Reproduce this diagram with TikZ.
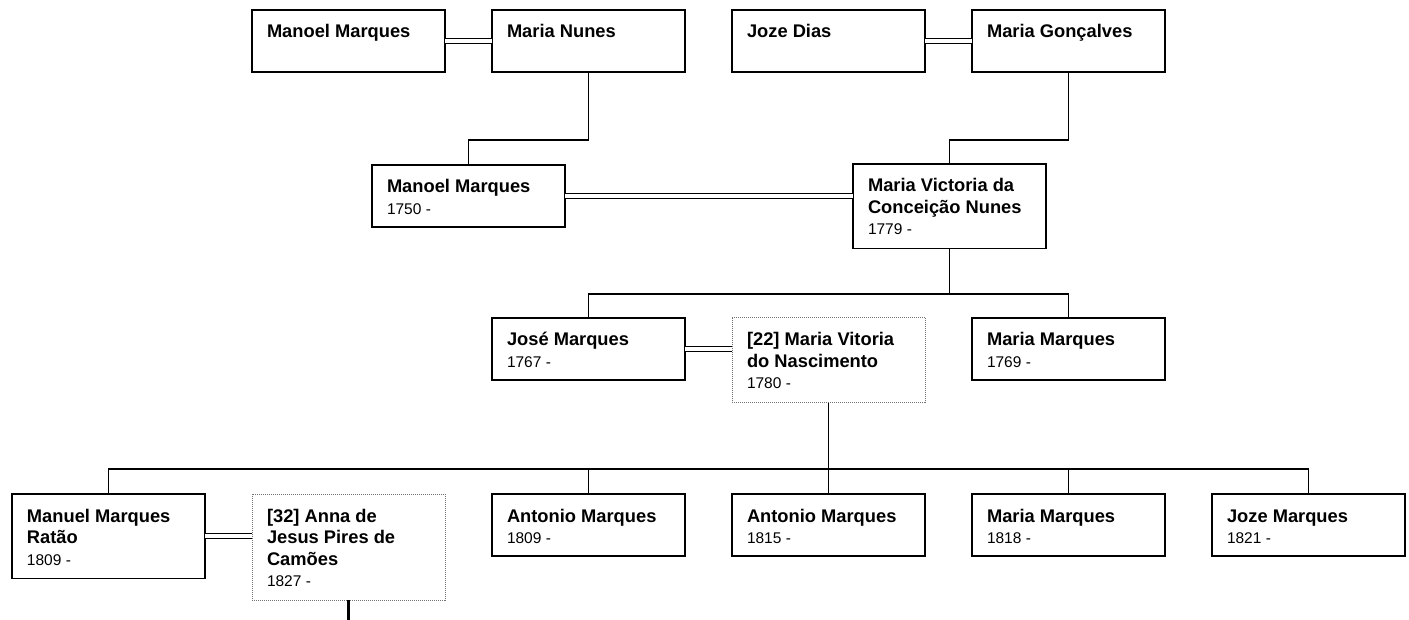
\documentclass[tikz,border=0pt]{standalone}
\usepackage{fontspec}
\setmainfont{Liberation Sans}
\newcommand{\pcell}[2]{\parbox[t][#1pt][t]{163pt}{\raggedright\hyphenpenalty=10000 #2}}
\newcommand{\nm}[1]{{\fontsize{18.3}{21.5}\selectfont\bfseries\strut #1\par}}
\newcommand{\dt}[1]{{\fontsize{15.5}{21.5}\selectfont #1\par}}
\begin{document}
\begin{tikzpicture}[x=1pt,y=-1pt,
  person/.style={draw, line width=1.3pt, anchor=north west, inner xsep=15pt, inner ysep=12.95pt, outer sep=0pt, fill=white},
  dotbox/.style={person, draw=black!55, line width=1pt, dash pattern=on 1pt off 1pt},
  couple/.style={double, double distance=3.7pt, line width=1.3pt},
  link/.style={line width=1.3pt}]
\useasboundingbox (0,0) rectangle (1409,620);
% row 1
\node[person] (mm1) at (252,10) {\pcell{36.1}{\nm{Manoel Marques}}};
\node[person] (mn1) at (492,10) {\pcell{36.1}{\nm{Maria Nunes}}};
\node[person] (jd)  at (732,10) {\pcell{36.1}{\nm{Joze Dias}}};
\node[person] (mg)  at (972,10) {\pcell{36.1}{\nm{Maria Gonçalves}}};
% row 2
\node[person] (mm2) at (372,165) {\pcell{36.1}{\nm{Manoel Marques}\dt{1750 -}}};
\node[person] (mvc) at (853,164) {\pcell{58.6}{\nm{Maria Victoria da Conceição Nunes}\dt{1779 -}}};
% row 3
\node[person] (jm)  at (492,318) {\pcell{36.1}{\nm{José Marques}\dt{1767 -}}};
\node[dotbox] (mvn) at (732,318) {\pcell{58.6}{\nm{[22] Maria Vitoria do Nascimento}\dt{1780 -}}};
\node[person] (mm3) at (972,318) {\pcell{36.1}{\nm{Maria Marques}\dt{1769 -}}};
% row 4
\node[person] (mmr) at (12,494) {\pcell{58.6}{\nm{Manuel Marques Ratão}\dt{1809 -}}};
\node[dotbox] (ajp) at (252,494) {\pcell{80.1}{\nm{[32] Anna de Jesus Pires de Camões}\dt{1827 -}}};
\node[person] (am1) at (492,494) {\pcell{36.1}{\nm{Antonio Marques}\dt{1809 -}}};
\node[person] (am2) at (732,494) {\pcell{36.1}{\nm{Antonio Marques}\dt{1815 -}}};
\node[person] (mm4) at (972,494) {\pcell{36.1}{\nm{Maria Marques}\dt{1818 -}}};
\node[person] (jm2) at (1212,494) {\pcell{36.1}{\nm{Joze Marques}\dt{1821 -}}};
% couples
\draw[couple] (mm1.east) -- (mm1.east -| mn1.west);
\draw[couple] (jd.east) -- (jd.east -| mg.west);
\draw[couple] (mm2.east) -- (mm2.east -| mvc.west);
\draw[couple] (jm.east) -- (jm.east -| mvn.west);
\draw[couple] (mmr.east) -- (mmr.east -| ajp.west);
% bus levels
\coordinate (b1) at (0,140);
\coordinate (b2) at (0,294);
\coordinate (b3) at (0,469);
\coordinate (bot) at (0,620);
% parent links
\draw[link] (mn1.south) -- (mn1.south |- b1) -| (mm2.north);
\draw[link] (mg.south) -- (mg.south |- b1) -| (mvc.north);
\draw[link] (mvc.south) -- (mvc.south |- b2);
\draw[link] (jm.north) -- (jm.north |- b2) -- (mm3.north |- b2) -- (mm3.north);
\draw[link] (mvn.south) -- (mvn.south |- b3);
\draw[link] (mmr.north) -- (mmr.north |- b3) -- (jm2.north |- b3) -- (jm2.north);
\draw[link] (am1.north) -- (am1.north |- b3);
\draw[link] (am2.north) -- (am2.north |- b3);
\draw[link] (mm4.north) -- (mm4.north |- b3);
\coordinate (aend) at (ajp.south |- bot);
\draw[line width=2.2pt] (ajp.south) -- (aend);
\end{tikzpicture}
\end{document}
